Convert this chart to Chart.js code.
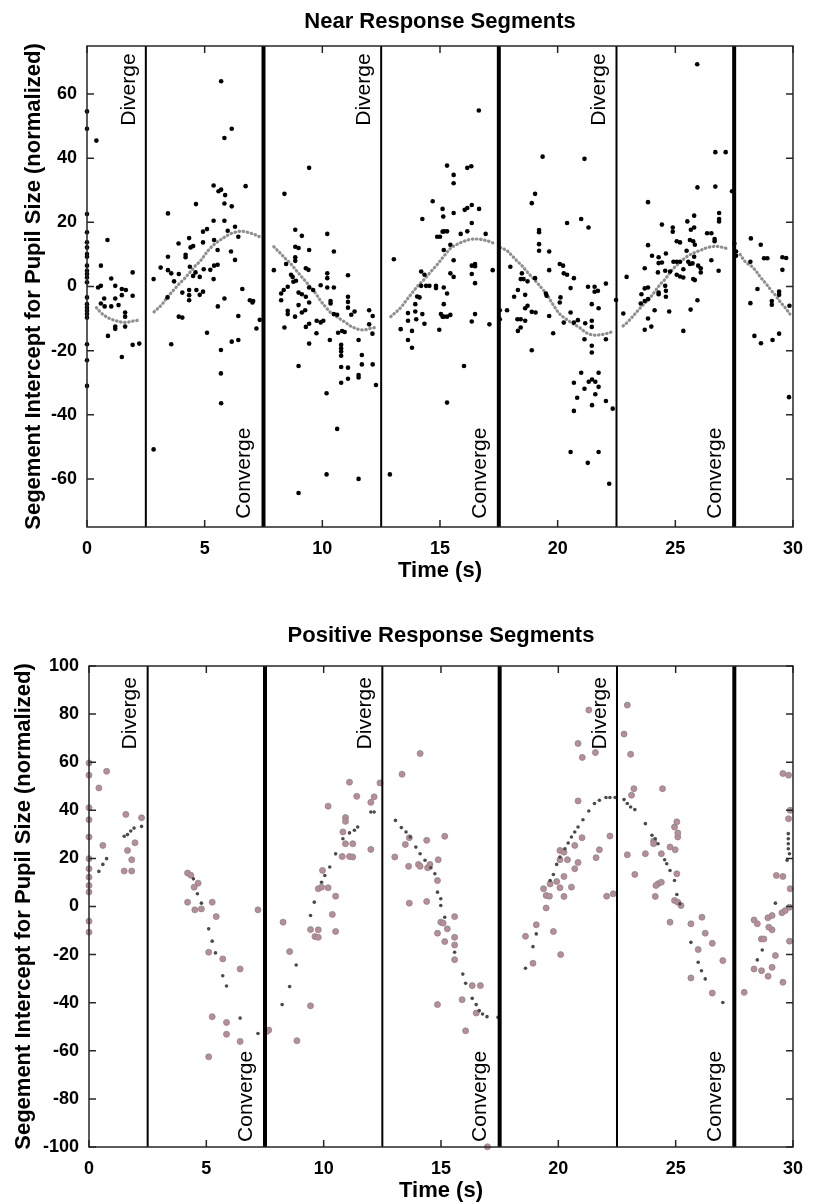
<!DOCTYPE html>
<html>
<head>
<meta charset="utf-8">
<script src="https://cdn.jsdelivr.net/npm/chart.js@4.4.1/dist/chart.umd.min.js"></script>
<style>
  html, body { margin: 0; padding: 0; background: #fff; }
  #wrap { position: relative; width: 814px; height: 1204px; }
  canvas { position: absolute; left: 0; }
  #near { top: 0; }
  #pos { top: 600px; }
</style>
</head>
<body>
<div id="wrap">
  <canvas id="near" width="814" height="600"></canvas>
  <canvas id="pos" width="814" height="604"></canvas>
</div>
<script>
// ---- axis ticks ----
const timeTicks = [0, 5, 10, 15, 20, 25, 30];
const nearTicks = [-60, -40, -20, 0, 20, 40, 60];
const posTicks = [-100, -80, -60, -40, -20, 0, 20, 40, 60, 80, 100];

// ---- stimulus events (s) ----
const divergeTimes = [2.5, 12.5, 22.5];
const convergeTimes = [7.5, 17.5, 27.5];

// ---- Near response: per-trial segment intercepts [time, value] ----
const nearSegmentA = [[0,54.6],[0,49.2],[0,22.6],[0,16.9],[0,13.8],[0,12.2],[0,10.1],[0,9.3],[0,6.5],[0,4.9],[0,3.9],[0,2.8],[0,1.3],[0,-3.4],[0,-5.5],[0,-6.6],[0,-7.6],[0,-8.6],[0,-9.7],[0,-18],[0,-23],[0,-31],
  [0.40,45.5],[0.87,14.5],[0.59,6.5],[1.03,2.5],[0.47,-0.3],[0.59,0.2],[1.2,0.2],[1.48,-0.8],[1.65,-1.1],[0.73,-3.75],[1.2,-3.75],[1.48,-2.7],[1.94,4.4],[1.94,-2.9],[0.59,-5.3],[0.75,-6.2],[1.03,-6.2],[1.34,-5.8],[1.62,-8.1],[1.62,-9.4],[1.2,-12.5],[1.2,-13.2],[1.62,-12.5],[0.89,-15.4],[1.94,-18.2],[2.22,-17.8],[1.48,-22]];
const nearSegmentB = [[5.38,31.5],[5.59,29.7],[5.70,30.2],[5.87,28.5],[6.74,31.3],[4.63,25.7],[5.84,25.9],[6.15,25.0],[3.44,22.8],[5.38,20.5],[5.84,20.5],[6.29,18.65],[5.98,17.4],[4.93,17.1],[5.10,17.9],[6.43,15.5],[3.89,13.4],[4.34,15.1],[4.40,12.2],[4.51,12.6],[4.93,13.75],[4.19,9.9],[4.19,9.1],[3.44,9.3],[5.40,14.5],[5.55,11.4],[6.12,10.9],[6.29,8.3],[3.13,5.9],[3.44,5.1],[3.58,4.1],[3.90,3.9],[4.37,6.15],[4.61,4.4],[4.96,5.4],[5.24,5.2],[5.40,6.5],[5.55,6.8],[5.38,2.3],[4.51,3.3],[4.79,3.0],[2.83,2.3],[3.70,1.6],[4.05,-1.9],[4.34,-1.1],[4.34,-2.7],[4.34,-4.3],[4.65,-1.1],[4.79,-2.6],[4.93,-1.6],[3.42,-3.4],[5.84,-3.75],[5.56,-6.2],[6.60,-0.8],[6.92,-4.3],[7.06,-4.5],[7.03,-5.0],[3.90,-9.4],[4.05,-9.7],[6.43,-9.2],[7.34,-10.4],[7.20,-13.1],[5.10,-14.4],[3.58,-18.0],[6.15,-17.2],[6.43,-16.7],[5.69,-19.8],[5.69,-27.1],[5.70,64.0],[6.15,49.2],[5.84,46.3],[2.83,-50.8],[5.70,-36.4]];
const nearSegmentC = [[9.44,37.0],[8.39,28.9],[8.85,17.7],[9.13,15.8],[10.21,16.4],[8.85,12.4],[8.99,12.0],[9.44,11.4],[10.49,10.9],[8.85,9.1],[8.85,8.0],[7.94,5.1],[8.46,7.0],[9.30,5.7],[9.41,5.2],[8.67,3.65],[8.74,3.0],[8.88,1.8],[8.77,1.5],[10.21,4.1],[10.21,2.6],[11.09,3.5],[9.44,-0.3],[9.61,-1.1],[9.93,0.4],[10.21,-0.3],[10.49,-0.3],[8.53,-0.1],[8.36,-1.1],[8.25,-2.2],[8.25,-4.3],[8.99,-1.9],[9.13,-2.4],[9.30,-3.2],[9.44,-5.0],[10.35,-4.5],[10.35,-5.3],[11.09,-3.2],[11.09,-4.8],[11.09,-6.6],[8.53,-7.6],[8.53,-8.6],[8.84,-9.4],[8.99,-5.8],[9.27,-7.4],[10.49,-8.6],[10.63,-8.8],[11.23,-8.8],[11.37,-7.8],[9.13,-8.1],[8.39,-12.8],[9.30,-12.6],[9.44,-11.6],[9.76,-10.7],[9.93,-11.2],[10.04,-10.7],[9.75,-14.6],[10.67,-14.4],[10.84,-13.9],[10.95,-14.2],[11.99,-7.4],[12.14,-9.2],[11.99,-11.8],[12.13,-14.7],[11.54,-16.7],[10.32,-16.7],[9.44,-17.8],[10.80,-18.2],[10.80,-19.3],[10.80,-20.3],[10.80,-21.6],[11.68,-21.35],[12.14,-24.3],[11.68,-24.3],[10.80,-25.1],[11.09,-25.3],[8.99,-24.8],[11.54,-27.6],[11.54,-28.4],[11.09,-28.75],[10.80,-30.0],[12.28,-30.7],[10.18,-33.3],[8.99,-64.4],[10.18,-58.6],[11.54,-60.0],[10.63,-44.4]];
const nearSegmentD = [[13.04,8.5],[14.69,26.6],[14.25,21.05],[15.11,24.2],[15.14,21.8],[14.88,15.5],[15.0,15.5],[15.11,17.1],[14.2,4.7],[14.34,3.65],[14.2,0.2],[14.41,0.2],[14.55,0.2],[14.83,0.2],[14.83,-0.5],[14.03,-3.1],[14.13,-3.4],[13.95,-5.5],[13.64,-8.3],[13.95,-7.8],[14.25,-8.6],[13.64,-10.7],[13.99,-10.2],[14.34,-11.6],[13.33,-13.3],[13.81,-13.85],[13.64,-16.7],[13.81,-19.1],[15.04,-8.6],[15.11,-9.4],[14.97,-13.5],[12.87,-58.6],
  [15.30,37.7],[15.58,34.8],[15.58,32.2],[16.16,37.0],[16.33,37.5],[15.58,22.9],[16.05,23.9],[16.16,24.5],[16.35,25.4],[16.66,24.2],[16.35,19.8],[15.18,17.2],[15.30,17.2],[16.16,17.2],[15.88,16.4],[16.94,16.4],[15.44,13.0],[15.16,11.4],[15.58,8.2],[16.35,6.5],[16.49,7.0],[16.49,6.3],[15.44,4.1],[15.58,3.0],[16.35,3.9],[16.49,1.05],[17.24,5.1],[15.16,-0.3],[15.30,-2.2],[15.16,-5.5],[15.16,-9.4],[15.30,-9.4],[15.44,-8.85],[16.49,-8.6],[16.35,-10.9],[17.1,-11.8],[16.02,-24.8],[15.30,-36.2],[16.65,54.9]];
const nearSegmentE = [[19.36,40.5],[21.14,39.8],[19.04,28.9],[18.90,26.0],[20.40,19.8],[21.0,21.05],[21.31,18.4],[19.21,17.6],[19.21,16.9],[19.21,13.2],[19.21,11.15],[19.64,10.9],[17.99,6.15],[18.48,4.1],[18.43,2.3],[18.55,2.3],[18.72,1.6],[19.04,2.6],[19.64,5.1],[20.09,7.0],[20.23,6.5],[20.26,4.1],[20.40,3.65],[20.69,2.6],[20.55,-0.5],[21.29,-0.1],[21.57,-0.1],[21.71,-1.35],[21.57,-1.65],[22.05,0.9],[18.31,-1.1],[18.15,-3.2],[18.62,-2.6],[19.5,-2.2],[19.53,-2.9],[20.12,-3.4],[20.09,-5.0],[21.45,-5.5],[21.74,-6.8],[18.72,-6.0],[18.62,-6.8],[18.90,-7.9],[19.06,-8.1],[17.54,-7.4],[17.54,-10.2],[17.85,-7.4],[18.29,-10.2],[18.43,-10.2],[18.31,-13.85],[18.43,-12.8],[18.62,-10.7],[19.64,-9.2],[20.55,-8.1],[20.26,-11.25],[20.69,-11.25],[20.86,-10.5],[21.17,-11.45],[21.45,-10.7],[21.45,-12.6],[19.81,-14.6],[21.14,-16.45],[21.45,-18.5],[21.45,-20.6],[22.05,-16.45],[22.48,-4.2],[18.9,-19.9],
  [21.0,-26.9],[21.74,-26.9],[20.69,-30],[21.14,-31.9],[21.32,-29.7],[21.46,-29],[21.60,-29.7],[21.74,-31.3],[20.83,-34.7],[20.69,-38.8],[21.60,-33.6],[21.46,-37.0],[22.05,-35.7],[22.34,-38.1],[20.55,-51.6],[21.74,-51.6],[21.28,-55],[22.19,-61.5]];
const nearSegmentF = [[25.93,69.3],[26.70,41.9],[27.14,41.9],[25.94,30.9],[26.70,31.15],[23.84,26.3],[26.86,22.9],[26.86,21.05],[26.86,20.3],[24.43,19.3],[24.89,18.4],[24.89,17.1],[25.51,20.3],[25.66,17.7],[25.80,18.4],[25.80,22.1],[26.35,16.6],[26.53,16.6],[25.06,14.1],[25.20,13.75],[25.62,14.5],[25.76,14.1],[25.83,13.0],[26.67,14.8],[26.67,14.1],[23.84,12.9],[25.48,11.15],[24.6,10.3],[24.01,9.6],[24.29,9.1],[24.43,7.5],[24.29,7.3],[24.92,7.7],[25.06,7.7],[25.2,7.7],[25.55,7.7],[25.62,7.0],[25.73,7.2],[25.80,9.3],[25.97,6.5],[26.08,5.7],[26.53,8.2],[26.84,4.9],[23.70,5.7],[25.34,5.4],[24.26,4.4],[24.57,4.9],[24.78,4.7],[25.06,3.65],[25.20,3.1],[25.34,2.8],[25.76,2.3],[25.83,2.0],[26.08,4.4],[22.93,3.0],[24.57,0.2],[23.70,-0.6],[23.84,-0.3],[24.6,-1.35],[24.6,-3.2],[24.29,-1.9],[24.29,-2.4],[23.56,-2.4],[25.94,-4.3],[23.53,-5.3],[23.70,-4.5],[23.84,-3.95],[24.12,-7.4],[24.74,-7.8],[25.65,-7.2],[22.79,-8.4],[23.84,-10],[23.70,-13.5],[23.98,-12.5],[25.34,-13.85],[27.41,29.7]];
const nearSegmentG = [[27.51,13.4],[27.58,10.9],[27.58,9.6],[28.21,15.0],[28.63,13.0],[28.77,8.8],[28.91,8.8],[29.55,9.1],[29.71,8.9],[28.19,7.7],[29.55,5.2],[28.49,-0.8],[28.19,-5.2],[29.41,-1.6],[29.41,-2.6],[29.10,-4.5],[29.10,-5.7],[29.85,-6.0],[28.36,-15.4],[28.64,-17.7],[29.13,-16.7],[29.41,-14.7],[29.83,-34.5]];

// ---- Near response: fitted curve per segment [time, value] ----
const nearFitA = [[0.40,-6.6],[0.61,-8.3],[0.82,-9.4],[1.03,-10.2],[1.24,-10.7],[1.45,-11.1],[1.66,-11.2],[1.94,-10.8],[2.22,-10.5]];
const nearFitB = [[2.85,-7.9],[3.16,-5.8],[3.44,-3.1],[3.72,-0.8],[3.90,0.7],[4.12,2.3],[4.37,4.4],[4.61,6.5],[4.82,8.0],[5.03,10.1],[5.24,12.0],[5.45,13.4],[5.66,14.5],[5.87,15.5],[6.08,16.4],[6.29,16.9],[6.50,17.2],[6.71,17.1],[6.92,16.7],[7.13,16.2],[7.34,15.5]];
const nearFitC = [[7.94,12.4],[8.25,10.1],[8.46,8.5],[8.67,7.0],[8.88,5.1],[9.09,3.3],[9.30,1.5],[9.51,-0.3],[9.72,-2.2],[9.93,-4.5],[10.14,-6.4],[10.35,-8.1],[10.56,-9.2],[10.77,-10.2],[10.98,-11.2],[11.19,-12.3],[11.40,-13.0],[11.61,-13.5],[11.82,-13.5],[12.03,-13.1],[12.24,-12.8]];
const nearFitD = [[12.91,-9.4],[13.33,-6.6],[13.57,-4.3],[14.06,0.2],[14.34,2.3],[14.62,4.7],[14.90,7.0],[15.18,9.6],[15.46,12.0],[15.74,13.2],[16.02,14.1],[16.30,14.7],[16.59,14.8],[16.87,14.5],[17.15,13.9],[17.36,13.2]];
const nearFitE = [[17.56,12.2],[17.85,11.15],[18.06,9.6],[18.27,8.0],[18.48,6.5],[18.69,4.7],[18.90,3.0],[19.11,1.3],[19.32,-0.5],[19.53,-2.4],[19.81,-5.7],[20.09,-8.6],[20.37,-10.2],[20.65,-11.6],[20.93,-12.8],[21.21,-14.4],[21.49,-15.1],[21.77,-15.1],[22.05,-14.7],[22.33,-14.1]];
const nearFitF = [[22.78,-12.3],[22.96,-11.2],[23.52,-6.6],[23.73,-5.0],[23.94,-3.4],[24.15,-1.35],[24.36,0.7],[24.57,2.3],[24.78,4.4],[24.99,6.15],[25.20,7.5],[25.41,8.9],[25.62,9.9],[25.83,10.6],[26.11,11.4],[26.39,12.2],[26.67,12.5],[26.88,12.4],[27.16,11.9]];
const nearFitG = [[27.75,10.0],[28.00,7.5],[28.21,6.5],[28.42,4.9],[28.63,2.8],[28.85,0.9],[29.06,-1.1],[29.27,-2.9],[29.48,-5.0],[29.69,-6.8],[29.87,-8.6]];

// ---- Positive response: measured intercepts [time, value] ----
const posMeasured = [[0,59.7],[0,54.6],[0,41.1],[0,36.1],[0,28.9],[0,19.9],[0,15.7],[0,12.2],[0,8.75],[0,6.0],[0,-6.1],[0,-10.7],[0.42,49.3],[0.75,56.2],[0.59,25.4],[1.57,38.3],[1.64,23.3],[1.82,19.45],[1.96,26.5],[2.24,36.9],[1.50,14.75],[1.82,14.75],
  [4.20,13.9],[4.34,13.0],[4.65,9.7],[4.48,8.05],[4.20,1.8],[4.51,-1.4],[4.79,-1.0],[5.25,1.8],[5.42,-4.2],[5.10,-19.0],[5.70,-21.8],[6.44,-26.0],[5.25,-45.8],[5.86,-48.2],[5.86,-53.1],[5.10,-62.5],[6.44,-56.1],[7.20,-1.4],
  [7.66,-51.4],[7.57,-52.0],[8.27,-6.5],[8.55,-18.75],[8.86,-55.8],[9.44,-41.3],[9.44,-9.6],[9.63,-12.5],[9.77,-12.8],[9.77,-9.7],[9.77,7.4],[9.91,8.05],[10.19,7.8],[10.37,-3.3],[10.51,4.3],[10.51,-10.4],[10.19,41.7],[11.10,51.7],[11.41,45.8],[12.01,23.75],[12.01,43.3],[12.15,45.6],[10.93,37.0],[10.93,35.4],[10.82,31.0],[10.93,26.1],[11.24,26.1],[10.79,20.8],[11.10,20.8],[11.24,20.6],[9.95,15.0],[12.40,51.4],
  [13.03,20.6],[13.34,55.0],[14.11,63.6],[13.48,25.8],[13.65,28.6],[13.62,16.7],[14.04,17.5],[14.11,16.7],[14.43,16.1],[14.53,17.5],[14.39,27.5],[15.16,29.2],[14.88,19.45],[14.85,10.8],[13.65,1.4],[14.39,2.1],[14.99,-6.5],[15.09,-6.9],[14.85,-11.1],[15.27,-9.3],[15.16,-14.6],[15.58,-4.2],[15.58,-12.8],[15.58,-16.0],[15.58,-22.1],[14.85,-40.8],[15.90,-38.75],[16.33,-32.9],[16.68,-32.9],[16.50,-44.3],[16.05,-51.7],[16.98,-99.9],
  [18.60,-12.4],[18.92,-23.6],[19.06,-7.6],[19.79,-10.4],[20.10,-20.0],[19.48,-0.6],[19.37,7.4],[19.48,4.6],[19.62,4.3],[19.65,9.4],[20.07,7.8],[20.24,4.2],[20.56,8.05],[22.06,4.3],[22.34,5.3],[21.30,81.7],[20.84,67.8],[21.02,62.0],[21.58,64.0],[20.84,43.9],[22.20,29.3],[21.01,28.6],[20.70,25.4],[21.61,20.3],[21.75,23.6],[20.70,15.7],[20.84,18.3],[20.07,23.3],[20.24,22.6],[20.07,19.45],[20.39,19.45],[19.93,10.4],[20.24,12.5],
  [22.94,83.75],[22.80,71.7],[23.08,63.3],[23.12,46.3],[23.22,49.0],[24.44,49.0],[22.94,21.5],[23.26,13.35],[23.71,21.95],[24.06,27.2],[24.06,26.1],[24.39,21.95],[24.25,9.45],[24.16,8.75],[24.13,4.2],[24.39,10.1],[24.76,24.75],[25.09,28.9],[25.09,30.6],[24.95,33.05],[25.05,35.2],[24.98,23.6],[25.05,13.6],[24.76,-6.5],[24.95,2.5],[25.09,1.8],[25.23,0.4],[25.65,-7.2],[25.65,-29.7],[25.96,-17.9],[26.12,-4.45],[26.26,-11.1],[26.56,-15.3],[27.01,-22.5],[26.56,-36.0],
  [27.92,-35.7],[28.34,-5.6],[28.48,-7.2],[28.65,-13.5],[28.76,-13.5],[28.66,-26.7],[28.34,-26.0],[28.93,-4.7],[29.11,-9.7],[28.97,-8.6],[29.11,-3.75],[29.25,-20.4],[29.11,-25.3],[28.94,-29.0],[29.57,-31.5],[29.53,-2.6],[29.67,-1.7],[29.85,-0.3],[29.85,-14.4],[29.88,7.4],[29.57,55.3],[29.81,54.6],[29.88,40.0],[29.81,36.5],[29.29,12.9],[29.57,12.5]];

// ---- Positive response: model prediction at measured times [time, value] ----
const posModel = [[0.42,14.6],[0.59,17.5],[0.75,19.9],[1.50,29.2],[1.64,29.9],[1.78,31.4],[1.92,32.6],[2.24,33.3],
  [4.45,11.5],[4.62,5.3],[4.79,1.4],[5.10,-9.3],[5.25,-14.4],[5.39,-19.3],[5.70,-28.8],[5.86,-33.05],[6.44,-46.4],[7.20,-52.8],
  [8.23,-40.8],[8.55,-33.3],[8.83,-24.3],[9.44,-3.75],[9.60,1.8],[9.91,10.1],[10.05,12.9],[10.26,16.4],[10.51,21.9],[10.82,28.2],[11.10,30.6],[11.31,31.7],[11.45,33.05],[12.01,39.3],[12.15,39.3],
  [13.06,35.8],[13.31,32.8],[13.51,31.0],[13.69,28.9],[13.93,24.7],[14.11,21.95],[14.32,19.2],[14.57,16.1],[14.74,13.6],[14.85,5.97],[14.99,3.2],[14.99,0.4],[15.16,-4.45],[15.58,-19.0],[15.93,-28.1],[16.05,-31.9],[16.33,-38.2],[16.50,-40.8],[16.63,-43.3],[16.77,-44.7],[16.96,-45.8],[17.43,-46.1],
  [18.60,-25.7],[18.92,-16.7],[19.06,-11.4],[19.65,10.8],[19.79,13.3],[19.93,17.5],[20.07,20.6],[20.28,24.0],[20.42,26.4],[20.56,28.9],[20.70,31.0],[20.84,33.05],[21.05,36.1],[21.30,39.7],[21.54,42.8],[21.75,44.2],[22.03,45.3],[22.20,45.3],[22.42,45.3],
  [22.80,44.45],[22.94,42.8],[23.08,41.4],[23.26,40.3],[23.71,34.45],[23.99,29.6],[24.13,28.2],[24.25,26.1],[24.53,19.45],[24.62,17.8],[24.76,15.0],[24.95,10.8],[25.05,5.0],[25.18,1.1],[25.65,-14.9],[25.96,-23.2],[26.10,-26.7],[26.26,-30.1],[27.01,-39.9],
  [28.48,-22.2],[28.69,-18.1],[29.25,1.4],[29.80,30.3],[29.80,28.2],[29.80,26.1],[29.80,24.0],[29.85,21.95],[29.75,19.2]];

// ---------------------------------------------------------------
const FONT = '"Liberation Sans", Arial, Helvetica, sans-serif';
const toXY = arr => arr.map(([x, y]) => ({ x, y }));

// Box outline, inward tick marks and rotated event labels
const framePlugin = {
  id: 'frame',
  afterDatasetsDraw(chart, args, opts) {
    const { ctx, chartArea: a, scales: { x, y } } = chart;
    ctx.save();
    ctx.fillStyle = '#000';
    ctx.font = '21px ' + FONT;
    (opts.labels || []).forEach(l => {
      const px = x.getPixelForValue(l.x) - l.gap;
      const py = y.getPixelForValue(l.y);
      ctx.save();
      ctx.translate(px, py);
      ctx.rotate(-Math.PI / 2);
      ctx.textBaseline = 'bottom';
      ctx.textAlign = l.anchor;
      ctx.fillText(l.text, 0, 0);
      ctx.restore();
    });
    ctx.strokeStyle = '#262626';
    ctx.lineWidth = 1.5;
    ctx.strokeRect(a.left, a.top, a.right - a.left, a.bottom - a.top);
    const L = 7;
    ctx.beginPath();
    x.ticks.forEach(t => {
      const p = x.getPixelForValue(t.value);
      ctx.moveTo(p, a.bottom); ctx.lineTo(p, a.bottom - L);
      ctx.moveTo(p, a.top); ctx.lineTo(p, a.top + L);
    });
    y.ticks.forEach(t => {
      const p = y.getPixelForValue(t.value);
      ctx.moveTo(a.left, p); ctx.lineTo(a.left + L, p);
      ctx.moveTo(a.right, p); ctx.lineTo(a.right - L, p);
    });
    ctx.stroke();
    ctx.restore();
  }
};

function eventLines(times, width, yMin, yMax) {
  return times.map(t => ({
    type: 'line',
    data: [{ x: t, y: yMin }, { x: t, y: yMax }],
    borderColor: '#000',
    borderWidth: width,
    pointRadius: 0,
    showLine: true,
    clip: false,
    order: 0
  }));
}

function eventLabels(yTop, yBottom) {
  return divergeTimes.map(t => ({ x: t, y: yTop, text: 'Diverge', anchor: 'right', gap: 6.5 }))
    .concat(convergeTimes.map(t => ({ x: t, y: yBottom, text: 'Converge', anchor: 'left', gap: 8.5 })));
}

function buildChart(id, o) {
  return new Chart(document.getElementById(id), {
    type: 'scatter',
    data: { datasets: o.datasets },
    options: {
      responsive: false,
      animation: false,
      devicePixelRatio: 1,
      layout: { padding: o.padding },
      plugins: {
        legend: { display: false },
        tooltip: { enabled: false },
        title: {
          display: true, text: o.title, fullSize: false, color: '#000',
          font: { family: FONT, size: 22, weight: 'bold', lineHeight: 1.2 },
          padding: o.titlePad
        },
        frame: { labels: o.labels }
      },
      scales: {
        x: {
          type: 'linear', min: 0, max: 30,
          afterBuildTicks: s => { s.ticks = timeTicks.map(v => ({ value: v })); },
          afterFit: s => { s.height = o.xHeight; },
          grid: { display: false, drawTicks: false },
          border: { display: false },
          ticks: { color: '#000', padding: o.xTickPad, maxRotation: 0, autoSkip: false,
                   font: { family: FONT, size: 18, weight: 'bold' } },
          title: { display: true, text: 'Time (s)', color: '#000',
                   font: { family: FONT, size: 22, weight: 'bold', lineHeight: 1.2 },
                   padding: { top: 0, bottom: o.xTitlePad } }
        },
        y: {
          type: 'linear', min: o.yMin, max: o.yMax,
          afterBuildTicks: s => { s.ticks = o.yTicks.map(v => ({ value: v })); },
          afterFit: s => { s.width = o.yWidth; },
          grid: { display: false, drawTicks: false },
          border: { display: false },
          ticks: { color: '#000', padding: 10, autoSkip: false,
                   font: { family: FONT, size: 18, weight: 'bold' } },
          title: { display: true, text: 'Segement Intercept for Pupil Size (normalized)', color: '#000',
                   font: { family: FONT, size: 22, weight: 'bold', lineHeight: 1.2 },
                   padding: { top: o.yTitlePad, bottom: 0 } }
        }
      }
    },
    plugins: [framePlugin]
  });
}

// ---- Near Response Segments ----
const nearPoints = [].concat(nearSegmentA, nearSegmentB, nearSegmentC, nearSegmentD, nearSegmentE, nearSegmentF, nearSegmentG);
const nearFits = [nearFitA, nearFitB, nearFitC, nearFitD, nearFitE, nearFitF, nearFitG];

buildChart('near', {
  title: 'Near Response Segments',
  padding: { left: 0, right: 13, top: 0, bottom: 0 },
  titlePad: { top: 9, bottom: 10.6 },
  xHeight: 73, xTickPad: 11, xTitlePad: 15.8,
  yWidth: 87, yTitlePad: 20.8,
  yMin: -75, yMax: 75, yTicks: nearTicks,
  labels: eventLabels(72.7, -72.4),
  datasets: [
    ...eventLines(divergeTimes, 2, -75, 75),
    ...eventLines(convergeTimes, 4, -75, 75),
    {
      data: toXY(nearPoints),
      pointRadius: 2.3, pointBackgroundColor: '#000', pointBorderWidth: 0,
      clip: false, order: 1
    },
    ...nearFits.map(seg => ({
      data: toXY(seg),
      showLine: true, tension: 0.35, pointRadius: 0,
      borderColor: '#8f8f8f', borderWidth: 3.2, borderDash: [0.5, 3.6], borderCapStyle: 'round',
      clip: false, order: 2
    }))
  ]
});

// ---- Positive Response Segments ----
buildChart('pos', {
  title: 'Positive Response Segments',
  padding: { left: 0, right: 11, top: 0, bottom: 0 },
  titlePad: { top: 22.8, bottom: 16.8 },
  xHeight: 57, xTickPad: 11, xTitlePad: 0,
  yWidth: 89, yTitlePad: 10.8,
  yMin: -100, yMax: 100, yTicks: posTicks,
  labels: eventLabels(95.4, -97.9),
  datasets: [
    ...eventLines(divergeTimes, 2, -100, 100),
    ...eventLines(convergeTimes, 4, -100, 100),
    {
      data: toXY(posModel),
      pointRadius: 1.8, pointBackgroundColor: '#4a4a4a', pointBorderWidth: 0,
      clip: false, order: 1
    },
    {
      data: toXY(posMeasured),
      pointRadius: 3, pointBackgroundColor: '#b98d96', pointBorderColor: '#8e8488', pointBorderWidth: 0.8,
      clip: false, order: 2
    }
  ]
});
</script>
</body>
</html>
